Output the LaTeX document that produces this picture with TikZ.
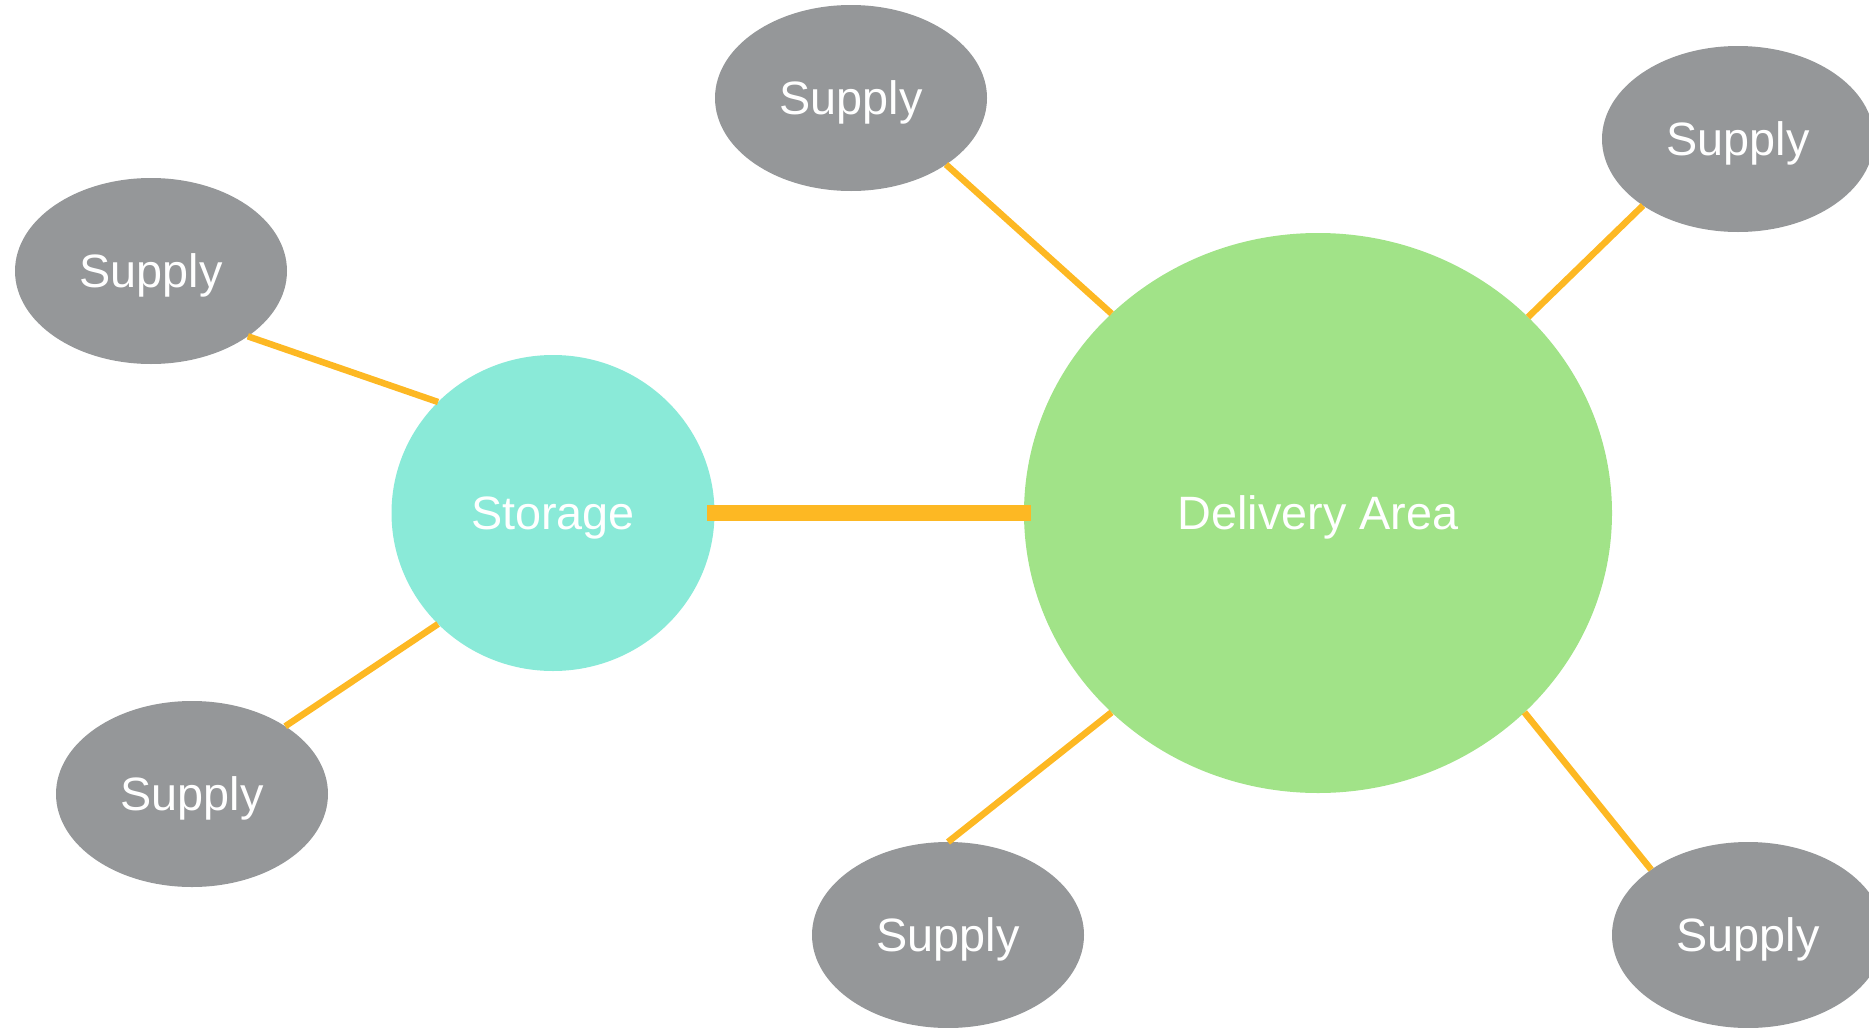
\documentclass[tikz,border=0pt]{standalone}
\usepackage{fontspec}
\setmainfont{Liberation Sans}
\usetikzlibrary{shapes.geometric}
\definecolor{supgray}{RGB}{149,151,153}
\definecolor{stteal}{RGB}{138,234,216}
\definecolor{dagreen}{RGB}{161,227,136}
\definecolor{lnorange}{RGB}{253,184,35}
\tikzstyle{blob}=[ellipse,inner sep=0pt,outer sep=0pt,text depth=0pt,text=white,font=\fontsize{23.4}{28}\selectfont]
\tikzstyle{supply}=[blob,fill=supgray,minimum width=136pt,minimum height=93pt]
\tikzstyle{link}=[line width=3.25pt,lnorange]
\tikzstyle{mainlink}=[line width=8pt,lnorange,shorten <=-3.7pt,shorten >=-3.7pt]

\begin{document}
\begin{tikzpicture}[x=.5pt,y=-.5pt]
	\useasboundingbox (0,0) rectangle (1869,1028);
	\clip (0,0) rectangle (1869,1028);
	% hubs
	\node[blob,fill=stteal,minimum width=161.5pt,minimum height=158pt] (st) at (553,513) {Storage};
	\node[blob,fill=dagreen,minimum width=294pt,minimum height=280pt] (da) at (1318,513) {Delivery Area};
	% supplies
	\node[supply] (s1) at (151,271)  {Supply};
	\node[supply] (s2) at (192,794)  {Supply};
	\node[supply] (s3) at (851,98)   {Supply};
	\node[supply] (s4) at (1738,139) {Supply};
	\node[supply] (s5) at (948,935)  {Supply};
	\node[supply] (s6) at (1748,935) {Supply};
	\draw[link] (s1.-34) -- (st.136);
	\draw[link] (s2.36)  -- (st.224);
	\draw[link] (s3.-35) -- (da.136);
	\draw[link] (s4.215) -- (da.43);
	\draw[link] (s5.90)  -- (da.-136);
	\draw[link] (s6.146) -- (da.-44);
	\draw[mainlink] (st) -- (da);
\end{tikzpicture}
\end{document}
